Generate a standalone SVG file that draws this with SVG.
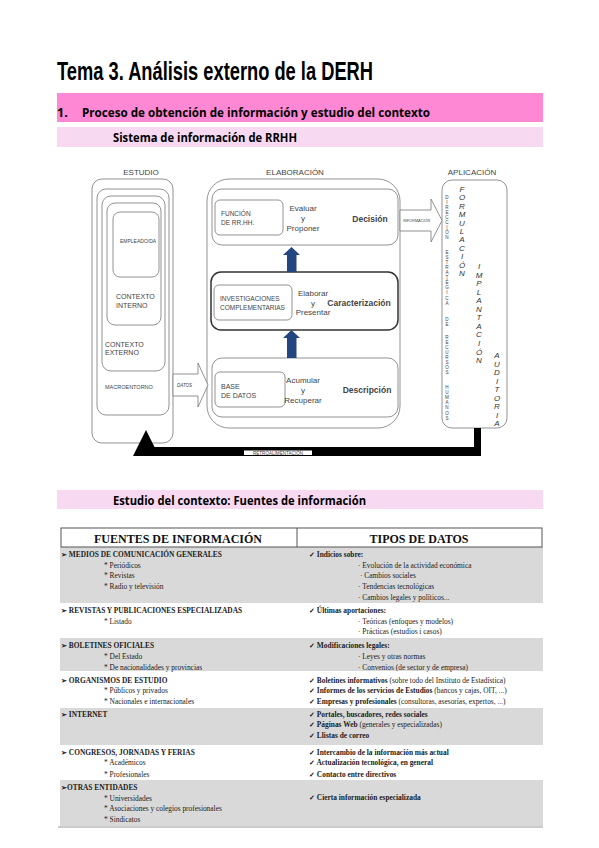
<svg xmlns="http://www.w3.org/2000/svg" width="599" height="848" viewBox="0 0 599 848">
<style>
.ttl{font-family:"Liberation Sans",Arial,sans-serif;font-weight:bold;fill:#000}
.sec{font-family:"Open Sans","Noto Sans",sans-serif;font-weight:bold;fill:#000}
.d{font-family:"Liberation Sans",Arial,sans-serif;fill:#444}
.b{fill:none;stroke:#777;stroke-width:0.8}
.bw{fill:#fff;stroke:#777;stroke-width:0.8}
.vs{font-family:"Liberation Sans",Arial,sans-serif;font-size:4.6px;fill:#444;text-anchor:middle}
.vi{font-family:"Liberation Sans",Arial,sans-serif;font-size:8px;font-style:italic;fill:#333;text-anchor:middle}
.tb{font-family:"Liberation Serif","Times New Roman",serif;font-size:7.4px;fill:#222}
.tb .k,.k{font-weight:bold}
.th{font-family:"Liberation Serif","Times New Roman",serif;font-size:12px;font-weight:bold;fill:#111;text-anchor:middle}
.g{fill:#d9d9d9}
.blue{fill:#22467f}
</style>

<g id="header">
<text class="ttl" x="57" y="80" font-size="25" textLength="316" lengthAdjust="spacingAndGlyphs">Tema 3. Análisis externo de la DERH</text>
<rect x="57" y="93" width="486" height="29" fill="#ff88d4"/>
<text class="sec" x="57" y="117" font-size="12.5">1.</text>
<text class="sec" x="82" y="117" font-size="12.5" textLength="348" lengthAdjust="spacingAndGlyphs">Proceso de obtención de información y estudio del contexto</text>
<rect x="57" y="127" width="486" height="20" fill="#f7d9f1"/>
<text class="sec" x="113" y="142" font-size="11.5" textLength="184" lengthAdjust="spacingAndGlyphs">Sistema de información de RRHH</text>
</g>

<g id="estudio">
<text class="d" x="141" y="175" font-size="8" text-anchor="middle">ESTUDIO</text>
<rect class="b" x="92" y="179" width="81" height="264" rx="10"/>
<rect class="b" x="97" y="189" width="72" height="226" rx="9"/>
<rect class="b" x="102" y="196" width="63" height="175" rx="9"/>
<rect class="b" x="107" y="203" width="54" height="122" rx="8"/>
<rect class="b" x="113" y="212" width="46" height="65" rx="7"/>
<text class="d" x="120" y="243" font-size="5">EMPLEADO/DA</text>
<text class="d" x="116" y="299" font-size="7">CONTEXTO</text>
<text class="d" x="116" y="307.5" font-size="7">INTERNO</text>
<text class="d" x="105" y="346.5" font-size="7">CONTEXTO</text>
<text class="d" x="105" y="355" font-size="7">EXTERNO</text>
<text class="d" x="105" y="388.5" font-size="5.5">MACROENTORNO</text>
</g>

<g id="elaboracion">
<text class="d" x="295" y="175" font-size="8" text-anchor="middle">ELABORACIÓN</text>
<rect class="b" x="207" y="179" width="193" height="249" rx="22"/>
<g id="decision">
<rect class="bw" x="212" y="189" width="186" height="56" rx="10"/>
<rect class="b" x="215" y="200" width="68" height="35" rx="5"/>
<text class="d" x="221" y="216" font-size="6.5">FUNCIÓN</text>
<text class="d" x="221" y="225" font-size="6.5">DE RR.HH.</text>
<text class="d" x="303" y="211" font-size="8" text-anchor="middle">Evaluar</text>
<text class="d" x="303" y="221" font-size="8" text-anchor="middle">y</text>
<text class="d" x="303" y="231" font-size="8" text-anchor="middle">Proponer</text>
<text class="d" x="370" y="222" font-size="8.5" font-weight="bold" fill="#222" text-anchor="middle">Decisión</text>
</g>
<g id="caracterizacion">
<rect x="211" y="272" width="187" height="58" rx="10" fill="#fff" stroke="#333" stroke-width="1.5"/>
<rect class="b" x="214" y="285" width="78" height="35" rx="5"/>
<text class="d" x="220" y="300.5" font-size="6.5">INVESTIGACIONES</text>
<text class="d" x="220" y="309.5" font-size="6.5">COMPLEMENTARIAS</text>
<text class="d" x="313" y="295.5" font-size="8" text-anchor="middle">Elaborar</text>
<text class="d" x="313" y="305.5" font-size="8" text-anchor="middle">y</text>
<text class="d" x="313" y="315" font-size="8" text-anchor="middle">Presentar</text>
<text class="d" x="359" y="306" font-size="8.5" font-weight="bold" fill="#222" text-anchor="middle">Caracterización</text>
</g>
<g id="descripcion">
<rect class="bw" x="212" y="358" width="186" height="59" rx="10"/>
<rect class="b" x="215" y="372" width="70" height="35" rx="5"/>
<text class="d" x="221" y="389" font-size="7">BASE</text>
<text class="d" x="221" y="397.5" font-size="7">DE  DATOS</text>
<text class="d" x="303" y="383" font-size="8" text-anchor="middle">Acumular</text>
<text class="d" x="303" y="393" font-size="8" text-anchor="middle">y</text>
<text class="d" x="303" y="403" font-size="8" text-anchor="middle">Recuperar</text>
<text class="d" x="367" y="393" font-size="8.5" font-weight="bold" fill="#222" text-anchor="middle">Descripción</text>
</g>
</g>

<g id="aplicacion">
<text class="d" x="472" y="175" font-size="8" text-anchor="middle">APLICACIÓN</text>
<rect class="b" x="442" y="180" width="65" height="248" rx="10"/>
<text class="vs"><tspan x="447" y="198.6">D</tspan><tspan x="447" y="203.6">I</tspan><tspan x="447" y="208.6">R</tspan><tspan x="447" y="213.6">E</tspan><tspan x="447" y="218.6">C</tspan><tspan x="447" y="223.6">C</tspan><tspan x="447" y="228.6">I</tspan><tspan x="447" y="233.6">Ó</tspan><tspan x="447" y="238.6">N</tspan><tspan x="447" y="253.6">E</tspan><tspan x="447" y="258.7">S</tspan><tspan x="447" y="263.8">T</tspan><tspan x="447" y="268.9">R</tspan><tspan x="447" y="274">A</tspan><tspan x="447" y="279.1">T</tspan><tspan x="447" y="284.2">É</tspan><tspan x="447" y="289.3">G</tspan><tspan x="447" y="294.4">I</tspan><tspan x="447" y="299.5">C</tspan><tspan x="447" y="304.6">A</tspan><tspan x="447" y="320.6">D</tspan><tspan x="447" y="325.6">E</tspan><tspan x="447" y="338.6">R</tspan><tspan x="447" y="343.6">E</tspan><tspan x="447" y="348.6">C</tspan><tspan x="447" y="353.6">U</tspan><tspan x="447" y="358.6">R</tspan><tspan x="447" y="363.6">S</tspan><tspan x="447" y="368.6">O</tspan><tspan x="447" y="373.6">S</tspan><tspan x="447" y="388.6">H</tspan><tspan x="447" y="393.8">U</tspan><tspan x="447" y="399">M</tspan><tspan x="447" y="404.2">A</tspan><tspan x="447" y="409.4">N</tspan><tspan x="447" y="414.6">O</tspan><tspan x="447" y="419.8">S</tspan></text>
<text class="vi"><tspan x="462" y="192">F</tspan><tspan x="462" y="200.4">O</tspan><tspan x="462" y="208.8">R</tspan><tspan x="462" y="217.2">M</tspan><tspan x="462" y="225.6">U</tspan><tspan x="462" y="234">L</tspan><tspan x="462" y="242.4">A</tspan><tspan x="462" y="250.8">C</tspan><tspan x="462" y="259.2">I</tspan><tspan x="462" y="267.6">Ó</tspan><tspan x="462" y="276">N</tspan></text>
<text class="vi"><tspan x="479" y="269">I</tspan><tspan x="479" y="277.5">M</tspan><tspan x="479" y="286.1">P</tspan><tspan x="479" y="294.6">L</tspan><tspan x="479" y="303.2">A</tspan><tspan x="479" y="311.8">N</tspan><tspan x="479" y="320.3">T</tspan><tspan x="479" y="328.9">A</tspan><tspan x="479" y="337.4">C</tspan><tspan x="479" y="346">I</tspan><tspan x="479" y="354.5">Ó</tspan><tspan x="479" y="363">N</tspan></text>
<text class="vi"><tspan x="497" y="358">A</tspan><tspan x="497" y="366.5">U</tspan><tspan x="497" y="375">D</tspan><tspan x="497" y="383.5">I</tspan><tspan x="497" y="392">T</tspan><tspan x="497" y="400.5">O</tspan><tspan x="497" y="409">R</tspan><tspan x="497" y="417.5">I</tspan><tspan x="497" y="426">A</tspan></text>
</g>

<g id="connectors">
<polygon class="bw" points="173,374 198,374 198,363 208,385 198,407 198,396 173,396"/>
<text class="d" x="177" y="386.5" font-size="4.5" font-style="italic" fill="#666">DATOS</text>
<polygon class="bw" points="400,210 431,210 431,199 442,220.5 431,242 431,231 400,231"/>
<text class="d" x="403" y="222" font-size="3.8" font-style="italic" fill="#666">INFORMACIÓN</text>
<polygon class="blue" points="291.5,247 300,255 296.5,255 296.5,272 287,272 287,255 283,255"/>
<polygon class="blue" points="291.5,330 300,338 296.5,338 296.5,358 287,358 287,338 283,338"/>
<rect x="474" y="428" width="7" height="28" fill="#000"/>
<rect x="146" y="447" width="335" height="9" fill="#000"/>
<polygon points="146,430 133,456 159,456" fill="#000"/>
<rect x="244" y="450.5" width="68" height="4.5" fill="#fff"/>
<text class="d" x="278" y="454.8" font-size="4.6" text-anchor="middle" fill="#333">RETROALIMENTACIÓN</text>
</g>

<g id="section2">
<rect x="57" y="490" width="486" height="19" fill="#f7d9f1"/>
<text class="sec" x="113" y="505" font-size="12.5" textLength="253" lengthAdjust="spacingAndGlyphs">Estudio del contexto: Fuentes de información</text>
</g>

<g id="table">
<rect class="g" x="60" y="547" width="483" height="56"/>
<rect class="g" x="60" y="638" width="483" height="33"/>
<rect class="g" x="60" y="708" width="483" height="37"/>
<rect class="g" x="60" y="780" width="483" height="46"/>
<line x1="58" y1="827" x2="543" y2="827" stroke="#999" stroke-width="1"/>
<rect x="61" y="528" width="481" height="19" fill="#fff" stroke="#555" stroke-width="1"/>
<line x1="297" y1="528" x2="297" y2="547" stroke="#555" stroke-width="1"/>
<text class="th" x="178" y="542.5">FUENTES DE INFORMACIÓN</text>
<text class="th" x="419" y="542.5">TIPOS DE DATOS</text>

<g class="tb">
<text class="k" x="61" y="557">➢ MEDIOS DE COMUNICACIÓN GENERALES</text>
<text x="104" y="567.5">* Periódicos</text>
<text x="104" y="578">* Revistas</text>
<text x="104" y="589">* Radio y televisión</text>
<text class="k" x="61" y="613">➢ REVISTAS Y PUBLICACIONES ESPECIALIZADAS</text>
<text x="104" y="623.5">* Listado</text>
<text class="k" x="61" y="648">➢ BOLETINES OFICIALES</text>
<text x="104" y="659">* Del Estado</text>
<text x="104" y="669.5">* De nacionalidades y provincias</text>
<text class="k" x="61" y="682.5">➢ ORGANISMOS DE ESTUDIO</text>
<text x="104" y="693">* Públicos y privados</text>
<text x="104" y="703.5">* Nacionales e internacionales</text>
<text class="k" x="61" y="716.5">➢ INTERNET</text>
<text class="k" x="61" y="755">➢ CONGRESOS, JORNADAS Y FERIAS</text>
<text x="104" y="765">* Académicos</text>
<text x="104" y="776.5">* Profesionales</text>
<text class="k" x="61" y="790">➢OTRAS ENTIDADES</text>
<text x="104" y="800.5">* Universidades</text>
<text x="104" y="810.5">* Asociaciones y colegios profesionales</text>
<text x="104" y="821.5">* Sindicatos</text>

<text class="k" x="309" y="557">✓ Indicios sobre:</text>
<text x="358" y="567.5">· Evolución de la actividad económica</text>
<text x="360" y="578">· Cambios sociales</text>
<text x="358" y="589">· Tendencias tecnológicas</text>
<text x="358" y="599.5">· Cambios legales y políticos...</text>
<text class="k" x="309" y="613">✓  Últimas aportaciones:</text>
<text x="358" y="623.5">· Teóricas (enfoques y modelos)</text>
<text x="358" y="633.5">· Prácticas (estudios i casos)</text>
<text class="k" x="309" y="648">✓ Modificaciones legales:</text>
<text x="358" y="659">· Leyes y otras normas</text>
<text x="358" y="669.5">· Convenios (de sector y de empresa)</text>
<text x="309" y="682.5"><tspan class="k">✓ Boletines informativos</tspan> (sobre todo del Instituto de Estadística)</text>
<text x="309" y="693"><tspan class="k">✓ Informes de los servicios de Estudios</tspan> (bancos y cajas, OIT, ...)</text>
<text x="309" y="703.5"><tspan class="k">✓ Empresas y profesionales</tspan> (consultoras, asesorías, expertos, ...)</text>
<text class="k" x="309" y="716.5">✓ Portales, buscadores, redes sociales</text>
<text x="309" y="727"><tspan class="k">✓ Páginas Web</tspan> (generales y especializadas)</text>
<text class="k" x="309" y="737.5">✓ Llistas de correo</text>
<text class="k" x="309" y="755">✓ Intercambio de la información más actual</text>
<text class="k" x="309" y="765">✓ Actualización tecnológica, en general</text>
<text class="k" x="309" y="776.5">✓ Contacto entre directivos</text>
<text class="k" x="309" y="800">✓ Cierta información especializada</text>
</g>
</g>
</svg>
